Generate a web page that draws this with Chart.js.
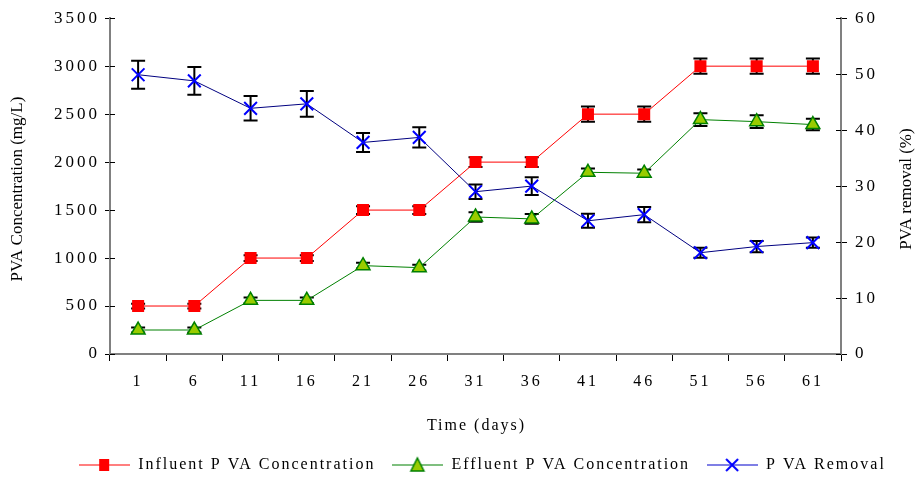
<!DOCTYPE html>
<html>
<head>
<meta charset="utf-8">
<script src="https://cdn.jsdelivr.net/npm/chart.js@4.4.1/dist/chart.umd.min.js"></script>
<style>
  html, body { margin: 0; padding: 0; background: #fff; }
  #wrap { width: 915px; height: 477px; }
</style>
</head>
<body>
<div id="wrap"><canvas id="pvaChart" width="915" height="477"></canvas></div>
<script>
// time axis (days)
const days = ['1', '6', '11', '16', '21', '26', '31', '36', '41', '46', '51', '56', '61'];

// PVA concentration, mg/L
const influent = [500, 500, 1000, 1000, 1500, 1500, 2000, 2000, 2500, 2500, 3000, 3000, 3000];
const influentErr = [25, 25, 30, 30, 40, 40, 50, 50, 80, 80, 80, 80, 80];
const effluent = [250, 250, 559, 559, 921, 900, 1428, 1408, 1894, 1884, 2443, 2422, 2391];
const effluentErr = [25, 25, 30, 30, 30, 30, 50, 50, 40, 40, 67, 67, 60];

// PVA removal, %
const removal = [49.9, 48.8, 43.9, 44.7, 37.8, 38.7, 29.0, 30.0, 23.8, 24.9, 18.1, 19.2, 19.9];
const removalErr = [2.5, 2.5, 2.2, 2.3, 1.7, 1.8, 1.3, 1.6, 1.25, 1.35, 0.9, 1.0, 0.9];

const serif = '"Liberation Serif", "Times New Roman", serif';
// the original's horizontal text is stretched sideways
const tickSpacing = '3px';
const legendSpacing = '2px';

// little line + marker pictures for the legend
function legendIcon(lineColor, drawMarker) {
  const c = document.createElement('canvas');
  c.width = 51; c.height = 18;
  const g = c.getContext('2d');
  g.strokeStyle = lineColor;
  g.lineWidth = 1.2;
  g.beginPath(); g.moveTo(0, 9); g.lineTo(51, 9); g.stroke();
  drawMarker(g, 25, 9);
  return c;
}
const icons = [
  legendIcon('#ff0000', function(g, x, y) {
    g.fillStyle = '#ff0000';
    g.fillRect(x - 5, y - 6, 10, 12);
  }),
  legendIcon('#008000', function(g, x, y) {
    g.fillStyle = '#99cc00'; g.strokeStyle = '#008000'; g.lineWidth = 1.5;
    g.beginPath(); g.moveTo(x, y - 7); g.lineTo(x + 6.5, y + 6); g.lineTo(x - 6.5, y + 6); g.closePath();
    g.fill(); g.stroke();
  }),
  legendIcon('#0000cc', function(g, x, y) {
    g.strokeStyle = '#0000ff'; g.lineWidth = 2;
    g.beginPath();
    g.moveTo(x - 6, y - 6); g.lineTo(x + 6, y + 6);
    g.moveTo(x + 6, y - 6); g.lineTo(x - 6, y + 6);
    g.stroke();
  })
];

function withSpacing(fn, sp) {
  return function() {
    const c = this.ctx;
    const old = c.letterSpacing;
    c.letterSpacing = sp;
    const r = fn.apply(this, arguments);
    c.letterSpacing = old;
    return r;
  };
}

const textSpacing = {
  id: 'textSpacing',
  beforeUpdate(chart) {
    chart.ctx.letterSpacing = tickSpacing;
    const lg = chart.legend;
    if (lg && !lg._spaced) {
      lg.fit = withSpacing(lg.fit, legendSpacing);
      lg.draw = withSpacing(lg.draw, legendSpacing);
      lg._spaced = true;
    }
  },
  beforeLayout(chart) { chart.ctx.letterSpacing = tickSpacing; },
  beforeDraw(chart) { chart.ctx.letterSpacing = tickSpacing; }
};

const errorBars = {
  id: 'errorBars',
  beforeDatasetsDraw(chart) {
    const c = chart.ctx;
    c.save();
    c.strokeStyle = '#000';
    c.lineWidth = 2;
    chart.data.datasets.forEach(function(ds, i) {
      if (!ds.errors) return;
      const meta = chart.getDatasetMeta(i);
      const ys = chart.scales[ds.yAxisID];
      meta.data.forEach(function(pt, j) {
        const top = ys.getPixelForValue(ds.data[j] + ds.errors[j]);
        const bot = ys.getPixelForValue(ds.data[j] - ds.errors[j]);
        c.beginPath();
        c.moveTo(pt.x, top); c.lineTo(pt.x, bot);
        c.moveTo(pt.x - 7, top); c.lineTo(pt.x + 7, top);
        c.moveTo(pt.x - 7, bot); c.lineTo(pt.x + 7, bot);
        c.stroke();
      });
    });
    c.restore();
  }
};

// axis titles (the y ones read bottom to top) and short inner stubs on the y ticks
const axisExtras = {
  id: 'axisExtras',
  afterDraw(chart) {
    const c = chart.ctx;
    const area = chart.chartArea;
    const midY = (area.top + area.bottom) / 2 + 3;
    c.save();
    c.fillStyle = '#000';
    c.textAlign = 'center';
    c.textBaseline = 'middle';
    c.letterSpacing = '2px';
    c.font = '16px ' + serif;
    c.fillText('Time (days)', (area.left + area.right) / 2 + 1, 426);
    c.letterSpacing = '0px';
    c.font = '17px ' + serif;
    [[18, 'PVA Concentration (mg/L)'], [chart.scales.y1.right - 8, 'PVA removal (%)']].forEach(function(t) {
      c.save();
      c.translate(t[0], midY);
      c.rotate(-Math.PI / 2);
      c.fillText(t[1], 0, 0);
      c.restore();
    });
    c.strokeStyle = '#000';
    c.lineWidth = 1;
    ['y', 'y1'].forEach(function(id) {
      const s = chart.scales[id];
      const x = id === 'y' ? area.left : area.right;
      const dir = id === 'y' ? 1 : -1;
      s.ticks.forEach(function(t) {
        const y = Math.round(s.getPixelForValue(t.value)) + 0.5;
        c.beginPath(); c.moveTo(x, y); c.lineTo(x + dir * 5, y); c.stroke();
      });
    });
    c.restore();
  }
};

const ctx = document.getElementById('pvaChart').getContext('2d');
const chart = new Chart(ctx, {
  type: 'line',
  data: {
    labels: days,
    datasets: [{
      label: 'Influent P VA Concentration',
      data: influent,
      errors: influentErr,
      yAxisID: 'y',
      borderColor: '#ff0000',
      borderWidth: 1,
      pointStyle: 'rect',
      pointRadius: 8.5,
      pointBackgroundColor: '#ff0000',
      pointBorderColor: '#ff0000',
      pointBorderWidth: 0,
      fill: false
    }, {
      label: 'Effluent P VA Concentration',
      data: effluent,
      errors: effluentErr,
      yAxisID: 'y',
      borderColor: '#008000',
      borderWidth: 1,
      pointStyle: 'triangle',
      pointRadius: 8,
      pointBackgroundColor: '#99cc00',
      pointBorderColor: '#008000',
      pointBorderWidth: 1.5,
      fill: false
    }, {
      label: 'P VA Removal',
      data: removal,
      errors: removalErr,
      yAxisID: 'y1',
      borderColor: '#000080',
      borderWidth: 1,
      pointStyle: 'crossRot',
      pointRadius: 9,
      pointBorderColor: '#0000ff',
      pointBorderWidth: 2,
      fill: false
    }]
  },
  options: {
    responsive: false,
    animation: false,
    layout: { padding: { top: 14, left: 50, right: 0, bottom: -6 } },
    plugins: {
      tooltip: { enabled: false },
      legend: {
        position: 'bottom',
        labels: {
          usePointStyle: true,
          pointStyleWidth: 51,
          padding: 17,
          color: '#000',
          font: { family: serif, size: 16 },
          generateLabels(chart) {
            const items = Chart.defaults.plugins.legend.labels.generateLabels(chart);
            items.forEach(function(it, i) { it.pointStyle = icons[i]; });
            return items;
          }
        }
      }
    },
    scales: {
      x: {
        offset: true,
        afterFit(scale) { scale.height = 86; },
        border: { color: '#808080', width: 2 },
        grid: { drawOnChartArea: false, drawTicks: true, tickLength: 7, color: '#000', offset: true },
        ticks: { color: '#000', padding: 11, font: { family: serif, size: 16 } },
        title: { display: false }
      },
      y: {
        position: 'left',
        min: 0, max: 3500,
        afterFit(scale) { scale.width = 60; },
        border: { color: '#808080', width: 2 },
        grid: { drawOnChartArea: false, drawTicks: true, tickLength: 5, color: '#000' },
        ticks: { stepSize: 500, color: '#000', padding: 5, font: { family: serif, size: 17 }, callback: v => String(v) },
        title: { display: false }
      },
      y1: {
        position: 'right',
        min: 0, max: 60,
        afterFit(scale) { scale.width = 74; },
        border: { color: '#808080', width: 2 },
        grid: { drawOnChartArea: false, drawTicks: true, tickLength: 6, color: '#000' },
        ticks: { stepSize: 10, color: '#000', padding: 8, font: { family: serif, size: 17 }, callback: v => String(v) },
        title: { display: false }
      }
    }
  },
  plugins: [textSpacing, errorBars, axisExtras]
});
</script>
</body>
</html>
